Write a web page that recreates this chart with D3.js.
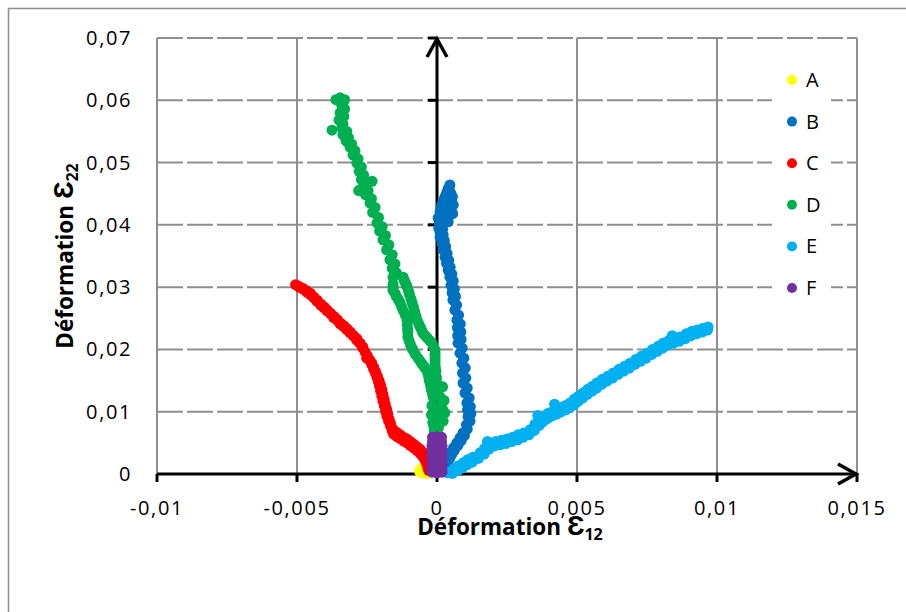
<!DOCTYPE html>
<html><head><meta charset="utf-8">
<script src="https://cdn.jsdelivr.net/npm/d3@7/dist/d3.min.js"></script>
<style>body{margin:0;background:#fff} svg{display:block}</style>
</head><body>
<script>
const seriesNames = ["A","B","C","D","E","F"];
const seriesColors = ["#FFFF00","#0070C0","#FF0000","#00B050","#00B0F0","#7030A0"];
const xTicks = [-0.01,-0.005,0,0.005,0.01,0.015];
const yTicks = [0,0.01,0.02,0.03,0.04,0.05,0.06,0.07];

const aX = [-0.00062,-0.00055,-0.00048,-0.00040,-0.00035,-0.00058];
const aY = [0.0004,0.0002,0.0006,0.0003,0.0001,0.0008];

const bX = [0.00046,0.00040,0.00036,0.00028,0.00021,0.00016,0.00011,0.00004,0.00050,0.00052,0.00050,0.00040,
  0.00011,0.00011,0.00011,0.00018,0.00022,0.00029,0.00034,0.00040,0.00046,0.00050,0.00054,0.00057,0.00064,0.00071,
  0.00073,0.00074,0.00075,0.00082,0.00089,0.00091,0.00093,0.00100,0.00107,0.00109,0.00111,0.00105,0.00093,0.00082,
  0.00071,0.00059,0.00046,0.00040,0.00032,
  0.00044,0.00032,0.00025,0.00017,0.00012,0.00008,0.00020,0.00022,0.00026,0.00031,0.00036,0.00042,0.00047,0.00053,
  0.00058,0.00062,0.00066,0.00070,0.00077,0.00083,0.00085,0.00086,0.00090,0.00096,0.00101,0.00103,0.00108,0.00115,
  0.00119,0.00121,0.00118,0.00108,0.00098,0.00087,0.00075,0.00062,0.00052,0.00045,0.00038,
  0.00055,0.00058,0.00056,0.00048,0.00030,0.00020,0.00006];
const bY = [0.0464,0.0458,0.0453,0.0444,0.0435,0.0428,0.0421,0.0411,0.0450,0.0440,0.0425,0.0405,
  0.0397,0.0388,0.0380,0.0370,0.0360,0.0348,0.0338,0.0327,0.0316,0.0303,0.0291,0.0279,0.0263,0.0247,
  0.0235,0.0222,0.0210,0.0194,0.0178,0.0162,0.0146,0.0130,0.0114,0.0103,0.0092,0.0079,0.0066,0.0058,
  0.0050,0.0042,0.0034,0.0028,0.0022,
  0.0456,0.0448,0.0440,0.0432,0.0415,0.0403,0.0393,0.0384,0.0375,0.0365,0.0354,0.0343,0.0332,0.0321,
  0.0310,0.0297,0.0285,0.0271,0.0255,0.0241,0.0228,0.0216,0.0202,0.0186,0.0170,0.0154,0.0138,0.0122,
  0.0108,0.0097,0.0085,0.0072,0.0062,0.0054,0.0046,0.0038,0.0031,0.0025,0.0019,
  0.0445,0.0432,0.0418,0.0430,0.0420,0.0410,0.0395];

const cX = [-0.00505,-0.00492,-0.00478,-0.00465,-0.00452,-0.00440,-0.00428,-0.00415,-0.00404,-0.00393,-0.00380,
  -0.00369,-0.00357,-0.00346,-0.00334,-0.00322,-0.00311,-0.00299,-0.00287,-0.00276,-0.00266,-0.00257,-0.00249,
  -0.00240,-0.00233,-0.00226,-0.00220,-0.00214,-0.00209,-0.00205,-0.00201,-0.00197,-0.00193,-0.00188,-0.00184,
  -0.00179,-0.00173,-0.00166,-0.00160,-0.00155,-0.00143,-0.00131,-0.00119,-0.00107,-0.00096,-0.00084,-0.00072,
  -0.00062,-0.00053,-0.00045,-0.00038,-0.00034,-0.00030,
  -0.00492,-0.00479,-0.00465,-0.00452,-0.00440,-0.00428,-0.00415,-0.00403,-0.00392,-0.00380,-0.00368,-0.00356,
  -0.00344,-0.00333,-0.00321,-0.00310,-0.00298,-0.00286,-0.00275,-0.00265,-0.00251,-0.00233,-0.00226,-0.00219,
  -0.00213,-0.00207,-0.00202,-0.00197,-0.00193,-0.00189,-0.00185,-0.00180,-0.00176,-0.00171,-0.00166,-0.00159,
  -0.00153,-0.00144,-0.00132,-0.00120,-0.00107,-0.00095,-0.00084,-0.00072,-0.00061,-0.00051,-0.00043,-0.00035,
  -0.00030];
const cY = [0.0304,0.0300,0.0297,0.0292,0.0288,0.0283,0.0277,0.0271,0.0267,0.0262,0.0257,
  0.0251,0.0247,0.0241,0.0237,0.0232,0.0227,0.0222,0.0215,0.0210,0.0203,0.0196,0.0190,
  0.0183,0.0176,0.0168,0.0162,0.0155,0.0148,0.0141,0.0133,0.0125,0.0117,0.0109,0.0101,
  0.0093,0.0085,0.0077,0.0070,0.0064,0.0060,0.0057,0.0053,0.0050,0.0046,0.0042,0.0038,
  0.0034,0.0029,0.0024,0.0018,0.0012,0.0006,
  0.0301,0.0298,0.0294,0.0290,0.0284,0.0279,0.0273,0.0268,0.0263,0.0258,0.0253,0.0248,
  0.0242,0.0238,0.0233,0.0228,0.0222,0.0217,0.0210,0.0204,0.0186,0.0178,0.0171,0.0164,
  0.0157,0.0150,0.0143,0.0136,0.0128,0.0120,0.0112,0.0104,0.0096,0.0088,0.0081,0.0073,
  0.0067,0.0067,0.0063,0.0059,0.0056,0.0052,0.0048,0.0044,0.0040,0.0035,0.0030,0.0025,
  0.0019];

const dX = [-0.00346,-0.00361,-0.00330,-0.00340,-0.00346,-0.00350,-0.00375,-0.00340,-0.00336,-0.00325,-0.00311,
  -0.00300,-0.00286,-0.00278,-0.00270,-0.00264,-0.00255,-0.00239,-0.00230,-0.00214,-0.00205,-0.00193,-0.00180,
  -0.00168,-0.00160,-0.00157,-0.00232,-0.00280,
  -0.00336,-0.00330,-0.00333,-0.00336,-0.00322,-0.00316,-0.00305,-0.00293,-0.00282,-0.00270,-0.00262,-0.00254,
  -0.00246,-0.00234,-0.00221,-0.00209,-0.00196,-0.00184,-0.00172,-0.00160,-0.00150,-0.00145,
  -0.00157,-0.00157,-0.00145,-0.00132,-0.00120,-0.00107,-0.00105,-0.00104,-0.00095,-0.00086,-0.00068,-0.00052,
  -0.00036,-0.00030,-0.00025,-0.00020,-0.00014,
  -0.00157,-0.00150,-0.00138,-0.00126,-0.00113,-0.00106,-0.00104,-0.00100,-0.00090,-0.00077,-0.00060,-0.00044,
  -0.00033,-0.00028,-0.00022,-0.00017,
  -0.00121,-0.00114,-0.00107,-0.00098,-0.00089,-0.00080,-0.00071,-0.00060,-0.00050,-0.00034,-0.00018,-0.00007,
  -0.00007,-0.00007,-0.00004,
  -0.00118,-0.00110,-0.00102,-0.00093,-0.00084,-0.00075,-0.00065,-0.00055,-0.00042,-0.00026,-0.00012,-0.00007,
  -0.00007,-0.00006,-0.00002,
  0.00000,0.00005,0.00011,0.00016,0.00021,0.00016,0.00011,0.00005,0.00000,-0.00005,-0.00010,-0.00012,
  0.00020,0.00025,0.00028,0.00022,-0.00018,-0.00020,-0.00015,-0.00010,0.00008];
const dY = [0.0604,0.0601,0.0601,0.0592,0.0580,0.0568,0.0552,0.0556,0.0545,0.0535,0.0525,
  0.0512,0.0499,0.0486,0.0473,0.0461,0.0448,0.0435,0.0420,0.0403,0.0390,0.0376,0.0360,
  0.0344,0.0330,0.0316,0.0470,0.0455,
  0.0596,0.0586,0.0574,0.0562,0.0550,0.0540,0.0530,0.0519,0.0506,0.0493,0.0480,0.0467,
  0.0455,0.0442,0.0428,0.0412,0.0397,0.0383,0.0368,0.0352,0.0337,0.0323,
  0.0305,0.0295,0.0285,0.0275,0.0262,0.0247,0.0233,0.0220,0.0208,0.0199,0.0186,0.0176,
  0.0167,0.0157,0.0146,0.0135,0.0124,
  0.0300,0.0290,0.0280,0.0268,0.0255,0.0240,0.0227,0.0214,0.0203,0.0192,0.0181,0.0171,
  0.0162,0.0151,0.0140,0.0130,
  0.0316,0.0308,0.0300,0.0288,0.0275,0.0261,0.0247,0.0236,0.0226,0.0218,0.0210,0.0199,
  0.0188,0.0178,0.0165,
  0.0312,0.0304,0.0294,0.0281,0.0268,0.0254,0.0241,0.0231,0.0222,0.0214,0.0204,0.0193,
  0.0183,0.0171,0.0155,
  0.0146,0.0135,0.0124,0.0113,0.0103,0.0092,0.0082,0.0074,0.0066,0.0100,0.0090,0.0078,
  0.0140,0.0118,0.0098,0.0085,0.0110,0.0095,0.0083,0.0070,0.0060];

const eX = [0.00039,0.00060,0.00075,0.00093,0.00110,0.00128,0.00154,0.00170,0.00189,0.00210,0.00230,0.00250,
  0.00271,0.00290,0.00310,0.00332,0.00350,0.00365,0.00379,0.00395,0.00412,0.00429,0.00445,0.00460,0.00475,
  0.00490,0.00505,0.00521,0.00538,0.00555,0.00571,0.00590,0.00610,0.00629,0.00650,0.00670,0.00689,0.00710,
  0.00730,0.00750,0.00770,0.00790,0.00807,0.00827,0.00847,0.00868,0.00890,0.00910,0.00929,0.00950,0.00968,
  0.00055,0.00075,0.00091,0.00108,0.00126,0.00148,0.00169,0.00186,0.00206,0.00227,0.00247,0.00267,0.00288,
  0.00307,0.00328,0.00348,0.00365,0.00379,0.00394,0.00410,0.00428,0.00444,0.00460,0.00475,0.00490,0.00505,
  0.00520,0.00537,0.00554,0.00570,0.00588,0.00607,0.00627,0.00647,0.00667,0.00687,0.00707,0.00727,0.00747,
  0.00767,0.00787,0.00806,0.00824,0.00845,0.00865,0.00886,0.00907,0.00927,0.00947,0.00966,
  0.00360,0.00420,0.00840,0.00180];
const eY = [0.0002,0.0008,0.0013,0.0018,0.0023,0.0027,0.0034,0.0041,0.0050,0.0052,0.0054,0.0056,
  0.0059,0.0063,0.0066,0.0071,0.0080,0.0087,0.0092,0.0097,0.0100,0.0103,0.0107,0.0110,0.0114,
  0.0120,0.0125,0.0130,0.0136,0.0141,0.0146,0.0152,0.0157,0.0162,0.0168,0.0173,0.0178,0.0184,
  0.0189,0.0194,0.0200,0.0205,0.0210,0.0214,0.0217,0.0220,0.0225,0.0229,0.0231,0.0234,0.0236,
  0.0001,0.0006,0.0010,0.0015,0.0019,0.0025,0.0032,0.0040,0.0045,0.0047,0.0049,0.0052,0.0055,
  0.0059,0.0063,0.0070,0.0078,0.0084,0.0089,0.0093,0.0096,0.0100,0.0103,0.0107,0.0111,0.0117,
  0.0122,0.0128,0.0133,0.0138,0.0144,0.0149,0.0154,0.0160,0.0165,0.0170,0.0176,0.0181,0.0186,
  0.0192,0.0197,0.0202,0.0207,0.0210,0.0213,0.0217,0.0222,0.0225,0.0228,0.0231,
  0.0094,0.0112,0.0222,0.0052];

const fX = [-0.00018,0.00000,0.00018,-0.00018,0.00000,0.00018,-0.00018,0.00000,0.00018,-0.00018,0.00000,0.00018,
  -0.00018,0.00000,0.00018,-0.00018,0.00000,0.00018,-0.00018,0.00000,0.00018,-0.00016,0.00000,0.00016,
  -0.00016,0.00000,0.00016];
const fY = [0.0003,0.0002,0.0003,0.0010,0.0010,0.0010,0.0017,0.0017,0.0017,0.0024,0.0024,0.0024,
  0.0031,0.0031,0.0031,0.0038,0.0038,0.0038,0.0045,0.0045,0.0045,0.0052,0.0052,0.0052,
  0.0059,0.0060,0.0059];

const seriesX = [aX,bX,cX,dX,eX,fX];
const seriesY = [aY,bY,cY,dY,eY,fY];

const W = 906, H = 612;
const svg = d3.select("body").append("svg").attr("width", W).attr("height", H);
const x = d3.scaleLinear().domain([-0.01, 0.015]).range([157, 857]);
const y = d3.scaleLinear().domain([0, 0.07]).range([474, 38]);
const fmt = d => String(d).replace(".", ",");
const font = "'Open Sans', sans-serif";

// outer border
svg.append("path").attr("d", `M8.5,${H} L8.5,8.5 L${W},8.5`).attr("fill","none").attr("stroke","#8c8c8c").attr("stroke-width",1.5);

// grid
svg.append("g").selectAll("line").data(yTicks.filter(d => d > 0)).join("line")
  .attr("x1", x(-0.01)).attr("x2", x(0.015)).attr("y1", d => y(d)).attr("y2", d => y(d))
  .attr("stroke", "#8f8f8f").attr("stroke-width", 2).attr("stroke-dasharray", "26,4");
svg.append("g").selectAll("line").data(xTicks.filter(d => d !== 0)).join("line")
  .attr("x1", d => x(d)).attr("x2", d => x(d)).attr("y1", y(0)).attr("y2", y(0.07))
  .attr("stroke", "#8f8f8f").attr("stroke-width", 2);

// axes
const ax = svg.append("g").attr("stroke", "#000").attr("fill", "none");
ax.append("line").attr("x1", x(-0.01)).attr("x2", x(0.015)).attr("y1", y(0)).attr("y2", y(0)).attr("stroke-width", 3);
ax.append("line").attr("x1", x(0)).attr("x2", x(0)).attr("y1", y(0)).attr("y2", y(0.07)).attr("stroke-width", 3);
ax.selectAll(".xt").data(xTicks).join("line")
  .attr("x1", d => x(d)).attr("x2", d => x(d)).attr("y1", y(0)).attr("y2", y(0) + 8).attr("stroke-width", 3);
ax.selectAll(".yt").data(yTicks).join("line")
  .attr("x1", x(0) - 9).attr("x2", x(0)).attr("y1", d => y(d)).attr("y2", d => y(d)).attr("stroke-width", 3);
ax.append("path").attr("d", `M${x(0.015)-19},${y(0)-10} L${x(0.015)-1},${y(0)} L${x(0.015)-19},${y(0)+10}`).attr("stroke-width", 3.5);
ax.append("path").attr("d", `M${x(0)-10},${y(0.07)+19} L${x(0)},${y(0.07)+1} L${x(0)+10},${y(0.07)+19}`).attr("stroke-width", 3.5);

// tick labels
svg.append("g").selectAll("text").data(xTicks).join("text")
  .attr("x", d => x(d)).attr("y", 515).attr("text-anchor", "middle")
  .attr("font-family", font).attr("font-size", 20).attr("letter-spacing", 1.6).text(fmt);
svg.append("g").selectAll("text").data(yTicks).join("text")
  .attr("x", 132).attr("y", d => y(d) + 7).attr("text-anchor", "end")
  .attr("font-family", font).attr("font-size", 20).attr("letter-spacing", 1.6).text(fmt);

// axis titles
const xt = svg.append("text").attr("x", 510).attr("y", 535).attr("text-anchor", "middle")
  .attr("font-family", font).attr("font-weight", "bold").attr("font-size", 22.5);
xt.append("tspan").text("Déformation ");
xt.append("tspan").attr("font-size", 28).text("Ɛ");
xt.append("tspan").attr("font-size", 16).attr("dy", 5).text("12");

const yt = svg.append("text").attr("transform", "translate(73,256) rotate(-90)").attr("text-anchor", "middle")
  .attr("font-family", font).attr("font-weight", "bold").attr("font-size", 22.5);
yt.append("tspan").text("Déformation ");
yt.append("tspan").attr("font-size", 28).text("Ɛ");
yt.append("tspan").attr("font-size", 16).attr("dy", 5).text("22");

// series
seriesNames.forEach((name, i) => {
  const pts = seriesX[i].map((v, j) => [v, seriesY[i][j]]);
  svg.append("g").selectAll("circle").data(pts).join("circle")
    .attr("cx", d => x(d[0])).attr("cy", d => y(d[1])).attr("r", 5.5)
    .attr("fill", seriesColors[i]);
});

// legend
const lg = svg.append("g");
lg.append("rect").attr("x", 772).attr("y", 58).attr("width", 59).attr("height", 250).attr("fill", "#fff");
seriesNames.forEach((name, i) => {
  const cy = 80 + i * 41.6;
  lg.append("circle").attr("cx", 792).attr("cy", cy).attr("r", 5).attr("fill", seriesColors[i]);
  lg.append("text").attr("x", 806).attr("y", cy + 7).attr("font-family", font).attr("font-size", 20).text(name);
});
</script>
</body></html>
